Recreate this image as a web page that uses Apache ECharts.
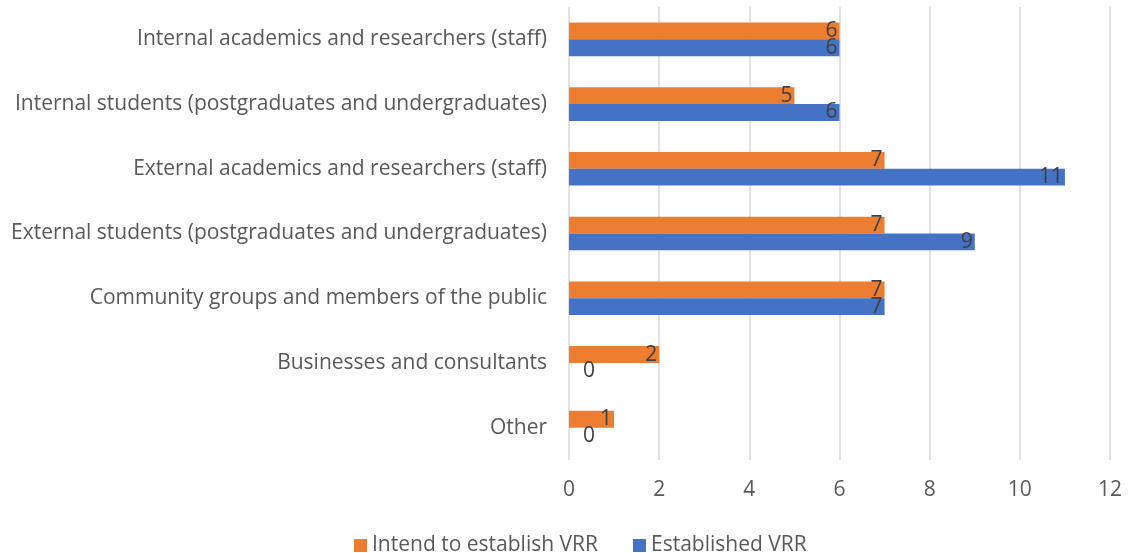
<!DOCTYPE html>
<html>
<head>
<meta charset="utf-8">
<script src="https://cdn.jsdelivr.net/npm/echarts@6/dist/echarts.min.js"></script>
<style>
  html, body { margin: 0; padding: 0; background: #fff; }
  #chart { width: 1132px; height: 553px; }
</style>
</head>
<body>
<div id="chart"></div>
<script>
// categories, top to bottom
var categories = [
  "Internal academics and researchers (staff)",
  "Internal students (postgraduates and undergraduates)",
  "External academics and researchers (staff)",
  "External students (postgraduates and undergraduates)",
  "Community groups and members of the public",
  "Businesses and consultants",
  "Other"
];
var intendVRR = [6, 5, 7, 7, 7, 2, 1];
var establishedVRR = [6, 6, 11, 9, 7, 0, 0];
var xTicks = [0, 2, 4, 6, 8, 10, 12];

var textFont = "Open Sans";

// zero bars get their label just right of the axis
function toItems(values) {
  return values.map(function (v) {
    if (v === 0) {
      return { value: v, label: { position: "right", distance: 14 } };
    }
    return v;
  });
}

var chart = echarts.init(document.getElementById("chart"));
chart.setOption({
  animation: false,
  textStyle: { fontFamily: textFont },
  grid: { left: 569, right: 22, top: 7, bottom: 93 },
  legend: {
    top: 530,
    left: 349,
    itemWidth: 13,
    itemHeight: 13,
    itemGap: 35,
    icon: "rect",
    textStyle: { color: "#595959", fontSize: 21, fontFamily: textFont },
    data: ["Intend to establish VRR", "Established VRR"]
  },
  xAxis: {
    type: "value",
    min: xTicks[0],
    max: xTicks[xTicks.length - 1],
    interval: 2,
    axisLine: { show: false },
    axisTick: { show: false },
    axisLabel: { color: "#595959", fontSize: 21, margin: 20 },
    splitLine: { lineStyle: { color: "#d9d9d9", width: 1.5 } }
  },
  yAxis: {
    type: "category",
    inverse: true,
    data: categories,
    axisLine: { show: false },
    axisTick: { show: false },
    axisLabel: { color: "#595959", fontSize: 21, margin: 22 }
  },
  series: [
    {
      name: "Intend to establish VRR",
      type: "bar",
      data: toItems(intendVRR),
      itemStyle: { color: "#ED7D31" },
      barGap: "0%",
      barCategoryGap: "48%",
      label: { show: true, position: "insideRight", distance: 2, color: "#404040", fontSize: 21 }
    },
    {
      name: "Established VRR",
      type: "bar",
      data: toItems(establishedVRR),
      itemStyle: { color: "#4472C4" },
      barGap: "0%",
      barCategoryGap: "48%",
      label: { show: true, position: "insideRight", distance: 2, color: "#404040", fontSize: 21 }
    }
  ]
});
</script>
</body>
</html>
